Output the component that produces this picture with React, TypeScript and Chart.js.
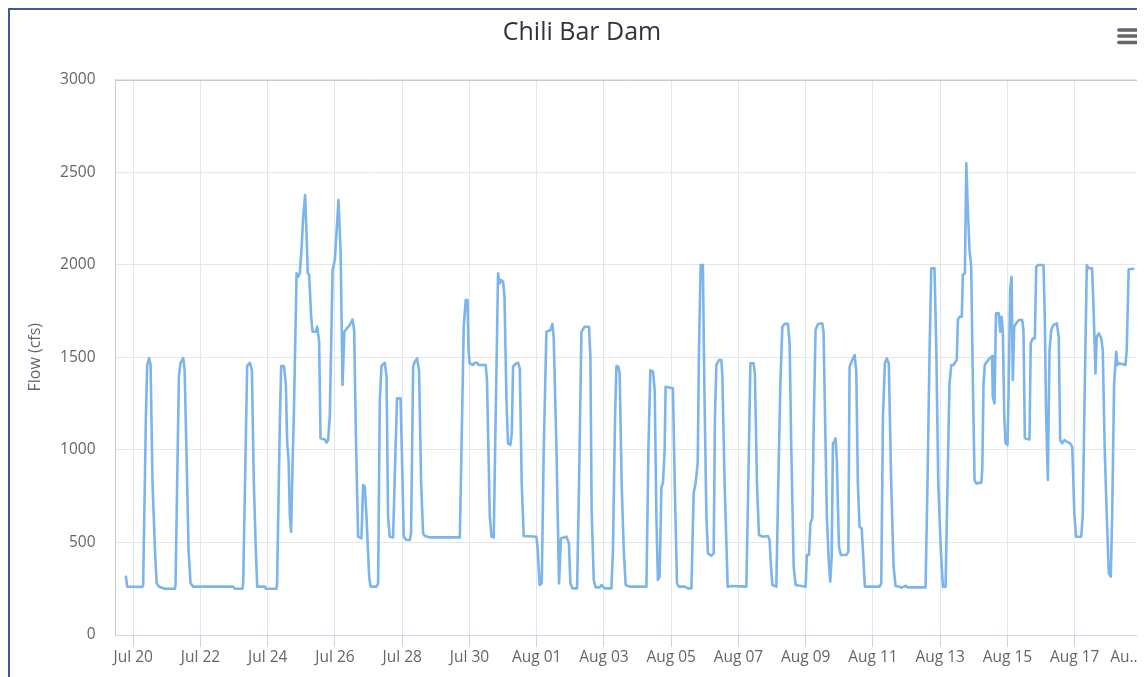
import React, { useEffect, useRef } from "react";
import { Chart, registerables } from "chart.js";

Chart.register(...registerables);

const chartTitle = "Chili Bar Dam";
const yAxisTitle = "Flow (cfs)";

// x values: hours since Jul 20 00:00
const tickHours = [0, 48, 96, 144, 192, 240, 288, 336, 384, 432, 480, 528, 576, 624, 672, 720];
const tickLabels = [
  "Jul 20", "Jul 22", "Jul 24", "Jul 26", "Jul 28", "Jul 30", "Aug 01", "Aug 03",
  "Aug 05", "Aug 07", "Aug 09", "Aug 11", "Aug 13", "Aug 15", "Aug 17",
  "Au\u2026\u00a0\u00a0\u00a0\u00a0\u00a0\u00a0\u00a0\u00a0",
];
const yTicks = [0, 500, 1000, 1500, 2000, 2500, 3000];
const xMinHour = -13;
const xMaxHour = 720;

const hours = [
  -5.2, -4.3, 6.4, 7.1, 9.1, 10, 11.4, 12.4, 13.8, 15.5, 16.7, 18.5, 22.6,
  29.7, 30.2, 32.6, 33.8, 35.7, 36.7, 38.5, 39.5, 40.9, 42.8, 71.3, 72.6,
  78, 78.5, 80.4, 81.3, 83.3, 84.7, 86.1, 87.5, 88.5, 94, 94.7,
  102.3, 102.7, 104.7, 105.6, 107.5, 108.9, 109.9, 110.9, 111.8, 112.7, 113.7, 114.6,
  116.6, 117.7, 118.9, 120.1, 121.3, 122.7, 123.7, 124.6, 125.6, 127, 128, 130.3, 131.3, 132.7,
  133.7, 136.8, 138, 139.1, 140.3, 142.3, 143.9, 145.1, 146.5, 148, 148.7, 149.4,
  150.7, 152.5, 154.6, 156.5, 157.7, 158.9, 160.5, 162.9, 164.1, 165.3, 166.5, 168.4, 169.4,
  173.6, 174.8, 176, 177.2, 179.6, 180.8, 181.9, 183.1, 185.5, 187.2, 188.3, 190.8, 191.7,
  193.1, 195, 197.4, 198.3, 199.8, 201, 202.6, 204, 205.5, 206.9, 208.1, 211.7, 233.1,
  234.3, 235.9, 237.3, 238.6, 239.3, 240.2, 242.6, 243.8, 245.4, 246.6, 251.6, 252.5,
  254.5, 255.7, 257.3, 258.7, 260.4, 261.6, 262.5, 264, 265, 266.4, 267.5, 269.2, 270.2,
  271.1, 272.1, 273.5, 274.7, 275.9, 277.3, 278.7, 287.8, 288.7, 290.1, 291.6,
  293, 294.9, 297.8, 299.2, 300.1, 302.1, 303.9, 305.3, 309.2, 311, 312, 313.5, 316.8,
  318.2, 319.9, 322.2, 325.3, 326.3, 327.2, 328.7, 330.1, 332.9, 334.2, 336.5, 341.3,
  342.4, 343.9, 344.9, 346.3, 347.2, 348.6, 350.1, 351.5, 354.4, 366.3,
  367.7, 369.1, 371, 372.2, 373.4, 374.5, 375.7, 377, 378.1, 379.3, 380, 381.7, 385.2,
  386.5, 388.1, 389.5, 393.6, 395.9, 398.4, 400, 401.4, 402.9, 403.8, 405, 406.6,
  407.6, 409.1, 410.2, 412.6, 414.3, 415.2, 416.2, 418.1, 419.8, 420.5, 422.1, 424.3, 426.9,
  437.6, 439, 440.5, 442.8, 443.7, 445.2, 446.6, 449.5, 453, 454.2, 455.2, 456.2,
  459, 460.4, 461.9, 463.3, 464.9, 467.3, 468.5, 469.7, 471.4, 472.8, 479.9,
  480.8, 482.3, 483.3, 484.7, 485.8, 487, 488.7, 491.8, 492.7, 494.2, 495.1, 496.5,
  497.5, 498.5, 499.4, 500.4, 501.3, 502.2, 503.7, 505.1, 508.9, 510.4,
  511.3, 513.2, 514.9, 516.1, 517.2, 518.4, 519.9, 520.8, 522.2, 532.7,
  533.9, 535.1, 536.5, 537.9, 539.3, 541, 542.7, 544.1, 547, 548.2, 551.2, 552.9, 565.5,
  566.9, 568.4, 569.6, 571.9, 573.2, 574.6, 576.4, 577.9, 579.8,
  581.2, 582.6, 583.9, 585.5, 586.9, 587.8, 588.6, 589.8, 591.4, 592.1, 593.6,
  594.6, 595.7, 596.9, 598.1, 599.3, 600.5, 601.7, 605.3, 606,
  606.9, 607.8, 609.3, 611.2, 613, 613.5, 614.7, 615.8, 617.8, 618.8, 619.7, 620.7,
  621.7, 622.6, 624, 624.9, 625.9, 626.9, 627.8, 628.8, 630.2, 632.1, 634.5, 635.4,
  636.4, 639.7, 640.6, 642.1, 643.5, 644.5, 645.9, 649.7, 650.6, 651.6, 652.8,
  654, 655.2, 656.8, 659.2, 660.6, 661.6, 663, 664.7, 666.3, 668.7, 670.2,
  671.8, 673, 676.6, 677.7, 679.2, 680.6, 682, 684.4, 685.6, 686.8, 687.7, 689.2,
  690.9, 692, 693.4, 694.9, 696.3, 697.7, 698.7, 700.1, 701.6, 702.5, 703.9,
  708.2, 709.1, 710.5, 713.9,
];

const flows = [
  315, 261, 260, 270, 1200, 1460, 1495, 1460, 820, 460, 280, 261, 250,
  250, 270, 1395, 1470, 1495, 1430, 820, 460, 280, 261, 261, 250,
  250, 280, 1070, 1453, 1470, 1430, 820, 460, 261, 261, 250,
  250, 280, 1170, 1453, 1453, 1360, 1037, 945, 640, 558, 915, 1170,
  1953, 1935, 1953, 2080, 2259, 2376, 2169, 1953, 1944, 1719, 1638, 1638, 1665, 1584,
  1062, 1056, 1039, 1053, 1179, 1971, 2025, 2169, 2349, 2079, 1719, 1350,
  1638, 1656, 1674, 1704, 1647, 1090, 531, 522, 810, 801, 639, 315, 261,
  261, 279, 1269, 1453, 1470, 1395, 639, 531, 527, 1000, 1278, 1278, 1000,
  531, 513, 513, 549, 1449, 1476, 1494, 1430, 820, 549, 535, 527, 527,
  1000, 1665, 1809, 1809, 1539, 1467, 1458, 1470, 1470, 1458, 1458, 1377,
  639, 531, 527, 1179, 1953, 1899, 1917, 1908, 1827, 1269, 1035, 1026, 1089,
  1449, 1458, 1467, 1470, 1440, 820, 535, 531, 460, 270, 279,
  1000, 1638, 1647, 1680, 1611, 1000, 279, 522, 531, 495, 279, 252, 252,
  820, 1638, 1665, 1665, 1503, 675, 297, 257, 257, 270, 252, 252,
  460, 1179, 1453, 1449, 1413, 820, 460, 270, 261, 261,
  1000, 1430, 1422, 1323, 639, 297, 315, 801, 820, 1000, 1341, 1338, 1332,
  820, 279, 261, 261, 252, 252, 765, 820, 928, 1539, 1998, 1998,
  1359, 639, 441, 428, 441, 1179, 1458, 1485, 1485, 1395, 820, 261, 265,
  261, 820, 1467, 1467, 1413, 820, 540, 531, 535, 513, 369, 270,
  261, 820, 1359, 1665, 1680, 1680, 1575, 1000, 369, 270, 261,
  432, 432, 603, 630, 1179, 1647, 1680, 1683, 1638, 1000, 639, 387,
  288, 423, 1035, 1044, 1062, 945, 477, 432, 432, 450,
  1449, 1485, 1512, 1422, 820, 585, 576, 460, 261, 261,
  279, 1179, 1467, 1494, 1467, 820, 369, 265, 261, 256, 265, 257, 257,
  820, 1539, 1980, 1980, 1539, 820, 460, 261, 261,
  820, 1359, 1458, 1458, 1476, 1485, 1701, 1719, 1719, 1944, 1953,
  2547, 2295, 2079, 1989, 1359, 837, 819, 823, 891,
  1359, 1458, 1476, 1494, 1506, 1287, 1251, 1737, 1737, 1638, 1719, 1638,
  1179, 1035, 1026, 1359, 1863, 1935, 1377, 1665, 1683, 1701, 1701, 1647,
  1062, 1056, 1575, 1602, 1602, 1989, 1998, 1998, 1719, 1179, 837,
  1539, 1647, 1674, 1683, 1611, 1053, 1035, 1053, 1044, 1035, 1017,
  639, 531, 531, 639, 1359, 1998, 1980, 1980, 1719, 1413, 1611, 1629,
  1602, 1539, 1000, 639, 333, 315, 639, 1359, 1530, 1458, 1467,
  1458, 1539, 1975, 1978,
];

const FONT = "'Open Sans', 'DejaVu Sans', sans-serif";
const CANVAS_W = 1144;
const CANVAS_H = 667;

const plotFrame = {
  id: "plotFrame",
  beforeDatasetsDraw(chart: any) {
    const { ctx, chartArea } = chart;
    ctx.save();
    ctx.strokeStyle = "#cccccc";
    ctx.lineWidth = 1;
    ctx.beginPath();
    const t = Math.round(chartArea.top) + 0.5;
    const l = Math.round(chartArea.left) + 0.5;
    const r = Math.round(chartArea.right) - 0.5;
    const b = Math.round(chartArea.bottom);
    ctx.moveTo(l, b);
    ctx.lineTo(l, t);
    ctx.lineTo(r, t);
    ctx.lineTo(r, b);
    ctx.stroke();
    ctx.restore();
  },
  afterDraw(chart: any) {
    const { ctx } = chart;
    ctx.save();
    ctx.strokeStyle = "#666666";
    ctx.lineWidth = 3.5;
    ctx.lineCap = "round";
    [20, 26, 32.5].forEach((y) => {
      ctx.beginPath();
      ctx.moveTo(1108.8, y);
      ctx.lineTo(1128.2, y);
      ctx.stroke();
    });
    ctx.restore();
  },
};

export default function App() {
  const canvasRef = useRef<HTMLCanvasElement | null>(null);

  useEffect(() => {
    if (!canvasRef.current) return;
    const chart = new Chart(canvasRef.current, {
      type: "line",
      data: {
        datasets: [
          {
            label: chartTitle,
            data: hours.map((h, i) => ({ x: h, y: flows[i] })),
            borderColor: "#7cb5ec",
            backgroundColor: "#7cb5ec",
            borderWidth: 2.6,
            pointRadius: 0,
            tension: 0,
            borderJoinStyle: "round",
            borderCapStyle: "round",
          },
        ],
      },
      options: {
        animation: false,
        responsive: false,
        maintainAspectRatio: false,
        layout: { padding: { left: 0, right: 0, top: 0, bottom: 0 } },
        plugins: {
          legend: { display: false },
          tooltip: { enabled: false },
          title: {
            display: true,
            text: chartTitle,
            color: "#333333",
            font: { family: FONT, size: 25, weight: "normal", lineHeight: 1.2 },
            padding: { top: 8, bottom: 31.5 },
          },
        },
        scales: {
          x: {
            type: "linear",
            min: xMinHour,
            max: xMaxHour,
            afterBuildTicks: (axis: any) => {
              axis.ticks = tickHours.map((v) => ({ value: v }));
            },
            afterFit: (axis: any) => {
              axis.height = CANVAS_H - 625;
              axis.paddingLeft = 0;
              axis.paddingRight = 12;
            },
            grid: {
              color: "#e0e5ee",
              tickColor: "#ccd6eb",
              tickLength: 12,
              drawTicks: true,
            },
            border: { display: true, color: "#ccd6eb" },
            ticks: {
              autoSkip: false,
              maxRotation: 0,
              minRotation: 0,
              padding: 1,
              color: "#666666",
              font: { family: FONT, size: 15.5 },
              callback: (value: any) => {
                const idx = tickHours.indexOf(Number(value));
                return idx >= 0 ? tickLabels[idx] : "";
              },
            },
          },
          y: {
            type: "linear",
            min: 0,
            max: 3000,
            afterBuildTicks: (axis: any) => {
              axis.ticks = yTicks.map((v) => ({ value: v }));
            },
            afterFit: (axis: any) => {
              axis.width = 105;
            },
            grid: { color: "#e6e6e6", drawTicks: false },
            border: { display: true, color: "#cccccc" },
            title: {
              display: true,
              text: yAxisTitle,
              color: "#666666",
              font: { family: FONT, size: 16, weight: "normal" },
              padding: { top: 15.4, bottom: 0 },
            },
            ticks: {
              padding: 19.5,
              color: "#666666",
              font: { family: FONT, size: 15.5 },
              callback: (value: any) => String(value),
            },
          },
        },
      },
      plugins: [plotFrame],
    } as any);
    return () => chart.destroy();
  }, []);

  return (
    <div>
      <style>{"html,body{overflow:hidden;}"}</style>
      <div
        style={{
          width: 1135,
          height: CANVAS_H,
          borderTop: "2px solid #3b5b9d",
          borderLeft: "2px solid #3b5b9d",
          overflow: "hidden",
          position: "relative",
          background: "#ffffff",
        }}
      >
        <canvas
          ref={canvasRef}
          width={CANVAS_W}
          height={CANVAS_H}
          style={{ display: "block", width: CANVAS_W, height: CANVAS_H }}
        />
      </div>
    </div>
  );
}
